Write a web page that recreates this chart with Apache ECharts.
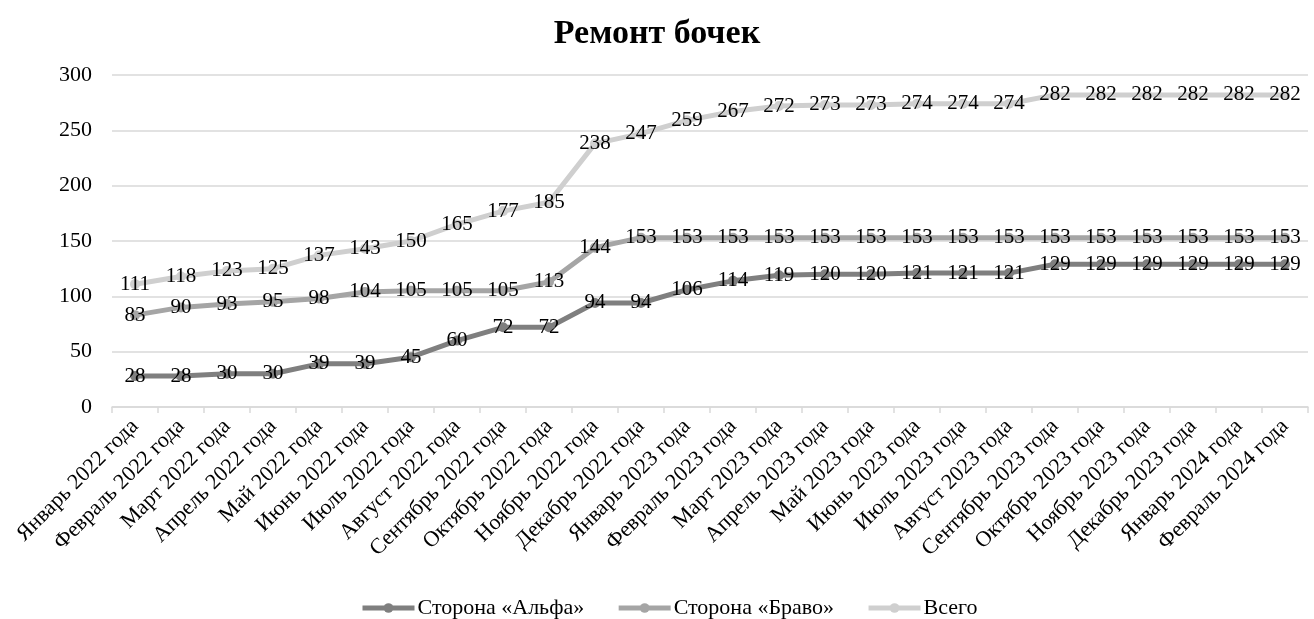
<!DOCTYPE html>
<html><head><meta charset="utf-8">
<script src="https://cdn.jsdelivr.net/npm/echarts@6/dist/echarts.min.js"></script>
<style>html,body{margin:0;padding:0;background:#fff}#c{width:1314px;height:619px}</style>
</head><body><div id="c"></div>
<script>
const categories = ["Январь 2022 года","Февраль 2022 года","Март 2022 года","Апрель 2022 года","Май 2022 года","Июнь 2022 года","Июль 2022 года","Август 2022 года","Сентябрь 2022 года","Октябрь 2022 года","Ноябрь 2022 года","Декабрь 2022 года","Январь 2023 года","Февраль 2023 года","Март 2023 года","Апрель 2023 года","Май 2023 года","Июнь 2023 года","Июль 2023 года","Август 2023 года","Сентябрь 2023 года","Октябрь 2023 года","Ноябрь 2023 года","Декабрь 2023 года","Январь 2024 года","Февраль 2024 года"];
const alpha = [28,28,30,30,39,39,45,60,72,72,94,94,106,114,119,120,120,121,121,121,129,129,129,129,129,129];
const bravo = [83,90,93,95,98,104,105,105,105,113,144,153,153,153,153,153,153,153,153,153,153,153,153,153,153,153];
const total = [111,118,123,125,137,143,150,165,177,185,238,247,259,267,272,273,273,274,274,274,282,282,282,282,282,282];
const seriesNames = ["Сторона «Альфа»","Сторона «Браво»","Всего"];
const colors = ["#7f7f7f","#a5a5a5","#cfcfcf"];
const font = "'Liberation Serif','Times New Roman',serif";
function mk(name, data, color){
  return {name, type:'line', data, symbol:'circle', symbolSize:10,
    lineStyle:{width:5,color}, itemStyle:{color},
    label:{show:true, position:'inside', fontFamily:font, fontSize:21, color:'#000'}};
}
const chart = echarts.init(document.getElementById('c'));
chart.setOption({
  animation:false,
  textStyle:{fontFamily:font},
  title:{text:'Ремонт бочек', left:'center', top:12, textStyle:{fontFamily:font, fontSize:34, fontWeight:'bold', color:'#000'}},
  legend:{top:592, left:355, itemWidth:52, itemHeight:12, itemGap:32,
    lineStyle:{width:5},
    textStyle:{fontFamily:font, fontSize:22, color:'#000', padding:[0,0,0,-2]}, data:seriesNames},
  grid:{left:112, right:6, top:75, bottom:212, containLabel:false},
  xAxis:{type:'category', data:categories, boundaryGap:true,
    axisLine:{lineStyle:{color:'#d9d9d9', width:1.5}},
    axisTick:{show:true, alignWithLabel:false, length:6, lineStyle:{color:'#d9d9d9', width:1.5}},
    axisLabel:{rotate:45, interval:0, fontFamily:font, fontSize:22, color:'#000', margin:16}},
  yAxis:{type:'value', min:0, max:300, interval:50,
    axisLine:{show:false}, axisTick:{show:false},
    splitLine:{lineStyle:{color:'#d9d9d9', width:1.5}},
    axisLabel:{fontFamily:font, fontSize:22, color:'#000', margin:20}},
  series:[mk(seriesNames[0], alpha, colors[0]), mk(seriesNames[1], bravo, colors[1]), mk(seriesNames[2], total, colors[2])]
});
</script></body></html>
